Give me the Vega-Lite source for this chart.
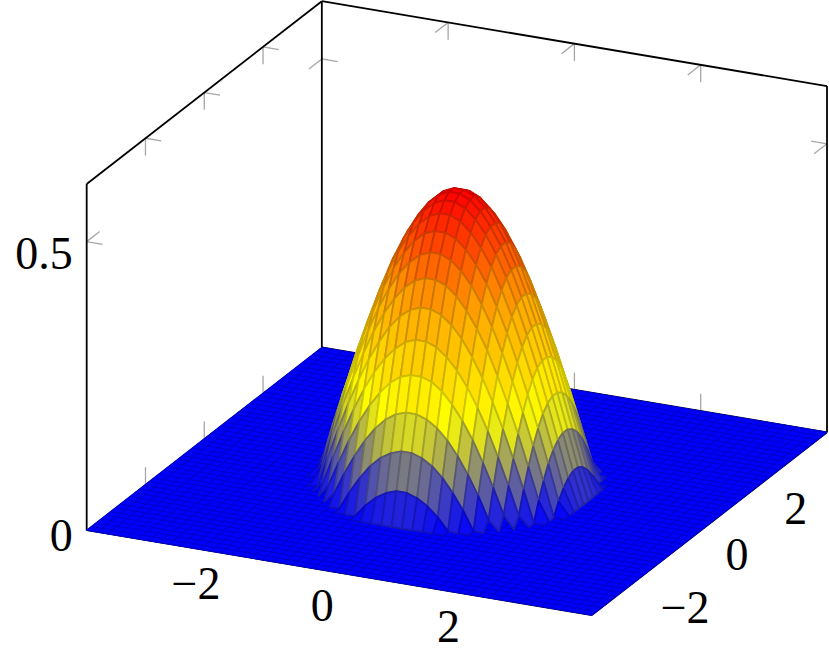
{"$schema":"https://vega.github.io/schema/vega-lite/v6.json","width":829,"height":655,"padding":0,"autosize":{"type":"fit","contains":"padding"},"background":"white","config":{"view":{"stroke":null}},
"datasets":{
"ticks":[
{"x":-2,"y":4,"z":0.6,"x2":-2,"y2":4,"z2":0.57},{"x":-2,"y":4,"z":0.6,"x2":-2,"y2":3.56,"z2":0.6},
{"x":0,"y":4,"z":0.6,"x2":0,"y2":4,"z2":0.57},{"x":0,"y":4,"z":0.6,"x2":0,"y2":3.56,"z2":0.6},
{"x":2,"y":4,"z":0.6,"x2":2,"y2":4,"z2":0.57},{"x":2,"y":4,"z":0.6,"x2":2,"y2":3.56,"z2":0.6},
{"x":-2,"y":4,"z":0,"x2":-2,"y2":4,"z2":0.03},{"x":0,"y":4,"z":0,"x2":0,"y2":4,"z2":0.03},{"x":2,"y":4,"z":0,"x2":2,"y2":4,"z2":0.03},
{"x":-4,"y":-2,"z":0.6,"x2":-4,"y2":-2,"z2":0.57},{"x":-4,"y":-2,"z":0.6,"x2":-3.75,"y2":-2,"z2":0.6},
{"x":-4,"y":0,"z":0.6,"x2":-4,"y2":0,"z2":0.57},{"x":-4,"y":0,"z":0.6,"x2":-3.75,"y2":0,"z2":0.6},
{"x":-4,"y":2,"z":0.6,"x2":-4,"y2":2,"z2":0.57},{"x":-4,"y":2,"z":0.6,"x2":-3.75,"y2":2,"z2":0.6},
{"x":-4,"y":-2,"z":0,"x2":-4,"y2":-2,"z2":0.03},{"x":-4,"y":0,"z":0,"x2":-4,"y2":0,"z2":0.03},{"x":-4,"y":2,"z":0,"x2":-4,"y2":2,"z2":0.03},
{"x":-4,"y":4,"z":0.5,"x2":-4,"y2":3.56,"z2":0.5},{"x":-4,"y":4,"z":0.5,"x2":-3.75,"y2":4,"z2":0.5},
{"x":-4,"y":-4,"z":0.5,"x2":-3.75,"y2":-4,"z2":0.5},{"x":-4,"y":-4,"z":0.5,"x2":-4,"y2":-3.56,"z2":0.5},
{"x":4,"y":4,"z":0.5,"x2":3.75,"y2":4,"z2":0.5},{"x":4,"y":4,"z":0.5,"x2":4,"y2":3.56,"z2":0.5}],
"box":[
{"x":-4,"y":-4,"z":0,"x2":-4,"y2":-4,"z2":0.6},{"x":-4,"y":-4,"z":0.6,"x2":-4,"y2":4,"z2":0.6},{"x":-4,"y":4,"z":0,"x2":-4,"y2":4,"z2":0.6},{"x":-4,"y":4,"z":0.6,"x2":4,"y2":4,"z2":0.6},{"x":4,"y":4,"z":0.6,"x2":4,"y2":4,"z2":0},{"x":-4,"y":-4,"z":0,"x2":4,"y2":-4,"z2":0},{"x":4,"y":-4,"z":0,"x2":4,"y2":4,"z2":0},{"x":-4,"y":4,"z":0,"x2":4,"y2":4,"z2":0}],
"floor":[{"x":-4,"y":-4,"c":0},{"x":4,"y":-4,"c":1},{"x":4,"y":4,"c":2},{"x":-4,"y":4,"c":3},{"x":-4,"y":-4,"c":4}],
"grid":[
{"x":-4,"y":-4,"x2":-4,"y2":4},{"x":-3.837,"y":-4,"x2":-3.837,"y2":4},{"x":-3.673,"y":-4,"x2":-3.673,"y2":4},{"x":-3.51,"y":-4,"x2":-3.51,"y2":4},{"x":-3.347,"y":-4,"x2":-3.347,"y2":4},{"x":-3.184,"y":-4,"x2":-3.184,"y2":4},{"x":-3.02,"y":-4,"x2":-3.02,"y2":4},{"x":-2.857,"y":-4,"x2":-2.857,"y2":4},{"x":-2.694,"y":-4,"x2":-2.694,"y2":4},{"x":-2.531,"y":-4,"x2":-2.531,"y2":4},{"x":-2.367,"y":-4,"x2":-2.367,"y2":4},{"x":-2.204,"y":-4,"x2":-2.204,"y2":4},{"x":-2.041,"y":-4,"x2":-2.041,"y2":4},{"x":-1.878,"y":-4,"x2":-1.878,"y2":4},{"x":-1.714,"y":-4,"x2":-1.714,"y2":4},{"x":-1.551,"y":-4,"x2":-1.551,"y2":4},{"x":-1.388,"y":-4,"x2":-1.388,"y2":4},{"x":-1.224,"y":-4,"x2":-1.224,"y2":4},{"x":-1.061,"y":-4,"x2":-1.061,"y2":4},{"x":-0.898,"y":-4,"x2":-0.898,"y2":4},{"x":-0.735,"y":-4,"x2":-0.735,"y2":4},{"x":-0.571,"y":-4,"x2":-0.571,"y2":4},{"x":-0.408,"y":-4,"x2":-0.408,"y2":4},{"x":-0.245,"y":-4,"x2":-0.245,"y2":4},{"x":-0.082,"y":-4,"x2":-0.082,"y2":4},{"x":0.082,"y":-4,"x2":0.082,"y2":4},{"x":0.245,"y":-4,"x2":0.245,"y2":4},{"x":0.408,"y":-4,"x2":0.408,"y2":4},{"x":0.571,"y":-4,"x2":0.571,"y2":4},{"x":0.735,"y":-4,"x2":0.735,"y2":4},{"x":0.898,"y":-4,"x2":0.898,"y2":4},{"x":1.061,"y":-4,"x2":1.061,"y2":4},{"x":1.224,"y":-4,"x2":1.224,"y2":4},{"x":1.388,"y":-4,"x2":1.388,"y2":4},{"x":1.551,"y":-4,"x2":1.551,"y2":4},{"x":1.714,"y":-4,"x2":1.714,"y2":4},{"x":1.878,"y":-4,"x2":1.878,"y2":4},{"x":2.041,"y":-4,"x2":2.041,"y2":4},{"x":2.204,"y":-4,"x2":2.204,"y2":4},{"x":2.367,"y":-4,"x2":2.367,"y2":4},{"x":2.531,"y":-4,"x2":2.531,"y2":4},{"x":2.694,"y":-4,"x2":2.694,"y2":4},{"x":2.857,"y":-4,"x2":2.857,"y2":4},{"x":3.02,"y":-4,"x2":3.02,"y2":4},{"x":3.184,"y":-4,"x2":3.184,"y2":4},{"x":3.347,"y":-4,"x2":3.347,"y2":4},{"x":3.51,"y":-4,"x2":3.51,"y2":4},{"x":3.673,"y":-4,"x2":3.673,"y2":4},{"x":3.837,"y":-4,"x2":3.837,"y2":4},{"x":4,"y":-4,"x2":4,"y2":4},
{"x":-4,"y":-4,"x2":4,"y2":-4},{"x":-4,"y":-3.837,"x2":4,"y2":-3.837},{"x":-4,"y":-3.673,"x2":4,"y2":-3.673},{"x":-4,"y":-3.51,"x2":4,"y2":-3.51},{"x":-4,"y":-3.347,"x2":4,"y2":-3.347},{"x":-4,"y":-3.184,"x2":4,"y2":-3.184},{"x":-4,"y":-3.02,"x2":4,"y2":-3.02},{"x":-4,"y":-2.857,"x2":4,"y2":-2.857},{"x":-4,"y":-2.694,"x2":4,"y2":-2.694},{"x":-4,"y":-2.531,"x2":4,"y2":-2.531},{"x":-4,"y":-2.367,"x2":4,"y2":-2.367},{"x":-4,"y":-2.204,"x2":4,"y2":-2.204},{"x":-4,"y":-2.041,"x2":4,"y2":-2.041},{"x":-4,"y":-1.878,"x2":4,"y2":-1.878},{"x":-4,"y":-1.714,"x2":4,"y2":-1.714},{"x":-4,"y":-1.551,"x2":4,"y2":-1.551},{"x":-4,"y":-1.388,"x2":4,"y2":-1.388},{"x":-4,"y":-1.224,"x2":4,"y2":-1.224},{"x":-4,"y":-1.061,"x2":4,"y2":-1.061},{"x":-4,"y":-0.898,"x2":4,"y2":-0.898},{"x":-4,"y":-0.735,"x2":4,"y2":-0.735},{"x":-4,"y":-0.571,"x2":4,"y2":-0.571},{"x":-4,"y":-0.408,"x2":4,"y2":-0.408},{"x":-4,"y":-0.245,"x2":4,"y2":-0.245},{"x":-4,"y":-0.082,"x2":4,"y2":-0.082},{"x":-4,"y":0.082,"x2":4,"y2":0.082},{"x":-4,"y":0.245,"x2":4,"y2":0.245},{"x":-4,"y":0.408,"x2":4,"y2":0.408},{"x":-4,"y":0.571,"x2":4,"y2":0.571},{"x":-4,"y":0.735,"x2":4,"y2":0.735},{"x":-4,"y":0.898,"x2":4,"y2":0.898},{"x":-4,"y":1.061,"x2":4,"y2":1.061},{"x":-4,"y":1.224,"x2":4,"y2":1.224},{"x":-4,"y":1.388,"x2":4,"y2":1.388},{"x":-4,"y":1.551,"x2":4,"y2":1.551},{"x":-4,"y":1.714,"x2":4,"y2":1.714},{"x":-4,"y":1.878,"x2":4,"y2":1.878},{"x":-4,"y":2.041,"x2":4,"y2":2.041},{"x":-4,"y":2.204,"x2":4,"y2":2.204},{"x":-4,"y":2.367,"x2":4,"y2":2.367},{"x":-4,"y":2.531,"x2":4,"y2":2.531},{"x":-4,"y":2.694,"x2":4,"y2":2.694},{"x":-4,"y":2.857,"x2":4,"y2":2.857},{"x":-4,"y":3.02,"x2":4,"y2":3.02},{"x":-4,"y":3.184,"x2":4,"y2":3.184},{"x":-4,"y":3.347,"x2":4,"y2":3.347},{"x":-4,"y":3.51,"x2":4,"y2":3.51},{"x":-4,"y":3.673,"x2":4,"y2":3.673},{"x":-4,"y":3.837,"x2":4,"y2":3.837},{"x":-4,"y":4,"x2":4,"y2":4}],
"surface":[
{"x":-0.735,"y":2.041,"z":0},{"x":-0.571,"y":2.041,"z":0},{"x":-0.408,"y":2.041,"z":0},{"x":-0.245,"y":2.041,"z":0},{"x":-0.082,"y":2.041,"z":0},{"x":0.082,"y":2.041,"z":0},{"x":0.245,"y":2.041,"z":0},{"x":0.408,"y":2.041,"z":0},{"x":0.571,"y":2.041,"z":0},{"x":0.735,"y":2.041,"z":0},
{"x":-1.061,"y":1.878,"z":0},{"x":-0.898,"y":1.878,"z":0},{"x":-0.735,"y":1.878,"z":0.001},{"x":-0.571,"y":1.878,"z":0.022},{"x":-0.408,"y":1.878,"z":0.038},{"x":-0.245,"y":1.878,"z":0.049},{"x":-0.082,"y":1.878,"z":0.055},{"x":0.082,"y":1.878,"z":0.055},{"x":0.245,"y":1.878,"z":0.049},{"x":0.408,"y":1.878,"z":0.038},{"x":0.571,"y":1.878,"z":0.022},{"x":0.735,"y":1.878,"z":0.001},{"x":0.898,"y":1.878,"z":0},{"x":1.061,"y":1.878,"z":0},
{"x":-1.224,"y":1.714,"z":0},{"x":-1.061,"y":1.714,"z":0.001},{"x":-0.898,"y":1.714,"z":0.033},{"x":-0.735,"y":1.714,"z":0.06},{"x":-0.571,"y":1.714,"z":0.083},{"x":-0.408,"y":1.714,"z":0.1},{"x":-0.245,"y":1.714,"z":0.111},{"x":-0.082,"y":1.714,"z":0.117},{"x":0.082,"y":1.714,"z":0.117},{"x":0.245,"y":1.714,"z":0.111},{"x":0.408,"y":1.714,"z":0.1},{"x":0.571,"y":1.714,"z":0.083},{"x":0.735,"y":1.714,"z":0.06},{"x":0.898,"y":1.714,"z":0.033},{"x":1.061,"y":1.714,"z":0.001},{"x":1.224,"y":1.714,"z":0},
{"x":-1.388,"y":1.551,"z":0},{"x":-1.224,"y":1.551,"z":0.017},{"x":-1.061,"y":1.551,"z":0.055},{"x":-0.898,"y":1.551,"z":0.088},{"x":-0.735,"y":1.551,"z":0.117},{"x":-0.571,"y":1.551,"z":0.141},{"x":-0.408,"y":1.551,"z":0.159},{"x":-0.245,"y":1.551,"z":0.171},{"x":-0.082,"y":1.551,"z":0.177},{"x":0.082,"y":1.551,"z":0.177},{"x":0.245,"y":1.551,"z":0.171},{"x":0.408,"y":1.551,"z":0.159},{"x":0.571,"y":1.551,"z":0.141},{"x":0.735,"y":1.551,"z":0.117},{"x":0.898,"y":1.551,"z":0.088},{"x":1.061,"y":1.551,"z":0.055},{"x":1.224,"y":1.551,"z":0.017},{"x":1.388,"y":1.551,"z":0},
{"x":-1.551,"y":1.388,"z":0},{"x":-1.388,"y":1.388,"z":0.022},{"x":-1.224,"y":1.388,"z":0.065},{"x":-1.061,"y":1.388,"z":0.105},{"x":-0.898,"y":1.388,"z":0.141},{"x":-0.735,"y":1.388,"z":0.171},{"x":-0.571,"y":1.388,"z":0.196},{"x":-0.408,"y":1.388,"z":0.216},{"x":-0.245,"y":1.388,"z":0.229},{"x":-0.082,"y":1.388,"z":0.235},{"x":0.082,"y":1.388,"z":0.235},{"x":0.245,"y":1.388,"z":0.229},{"x":0.408,"y":1.388,"z":0.216},{"x":0.571,"y":1.388,"z":0.196},{"x":0.735,"y":1.388,"z":0.171},{"x":0.898,"y":1.388,"z":0.141},{"x":1.061,"y":1.388,"z":0.105},{"x":1.224,"y":1.388,"z":0.065},{"x":1.388,"y":1.388,"z":0.022},{"x":1.551,"y":1.388,"z":0},
{"x":-1.714,"y":1.224,"z":0},{"x":-1.551,"y":1.224,"z":0.017},{"x":-1.388,"y":1.224,"z":0.065},{"x":-1.224,"y":1.224,"z":0.111},{"x":-1.061,"y":1.224,"z":0.153},{"x":-0.898,"y":1.224,"z":0.19},{"x":-0.735,"y":1.224,"z":0.222},{"x":-0.571,"y":1.224,"z":0.248},{"x":-0.408,"y":1.224,"z":0.268},{"x":-0.245,"y":1.224,"z":0.282},{"x":-0.082,"y":1.224,"z":0.289},{"x":0.082,"y":1.224,"z":0.289},{"x":0.245,"y":1.224,"z":0.282},{"x":0.408,"y":1.224,"z":0.268},{"x":0.571,"y":1.224,"z":0.248},{"x":0.735,"y":1.224,"z":0.222},{"x":0.898,"y":1.224,"z":0.19},{"x":1.061,"y":1.224,"z":0.153},{"x":1.224,"y":1.224,"z":0.111},{"x":1.388,"y":1.224,"z":0.065},{"x":1.551,"y":1.224,"z":0.017},{"x":1.714,"y":1.224,"z":0},
{"x":-1.878,"y":1.061,"z":0},{"x":-1.714,"y":1.061,"z":0.001},{"x":-1.551,"y":1.061,"z":0.055},{"x":-1.388,"y":1.061,"z":0.105},{"x":-1.224,"y":1.061,"z":0.153},{"x":-1.061,"y":1.061,"z":0.196},{"x":-0.898,"y":1.061,"z":0.235},{"x":-0.735,"y":1.061,"z":0.268},{"x":-0.571,"y":1.061,"z":0.296},{"x":-0.408,"y":1.061,"z":0.317},{"x":-0.245,"y":1.061,"z":0.331},{"x":-0.082,"y":1.061,"z":0.338},{"x":0.082,"y":1.061,"z":0.338},{"x":0.245,"y":1.061,"z":0.331},{"x":0.408,"y":1.061,"z":0.317},{"x":0.571,"y":1.061,"z":0.296},{"x":0.735,"y":1.061,"z":0.268},{"x":0.898,"y":1.061,"z":0.235},{"x":1.061,"y":1.061,"z":0.196},{"x":1.224,"y":1.061,"z":0.153},{"x":1.388,"y":1.061,"z":0.105},{"x":1.551,"y":1.061,"z":0.055},{"x":1.714,"y":1.061,"z":0.001},{"x":1.878,"y":1.061,"z":0},
{"x":-1.878,"y":0.898,"z":0},{"x":-1.714,"y":0.898,"z":0.033},{"x":-1.551,"y":0.898,"z":0.088},{"x":-1.388,"y":0.898,"z":0.141},{"x":-1.224,"y":0.898,"z":0.19},{"x":-1.061,"y":0.898,"z":0.235},{"x":-0.898,"y":0.898,"z":0.276},{"x":-0.735,"y":0.898,"z":0.31},{"x":-0.571,"y":0.898,"z":0.338},{"x":-0.408,"y":0.898,"z":0.36},{"x":-0.245,"y":0.898,"z":0.375},{"x":-0.082,"y":0.898,"z":0.382},{"x":0.082,"y":0.898,"z":0.382},{"x":0.245,"y":0.898,"z":0.375},{"x":0.408,"y":0.898,"z":0.36},{"x":0.571,"y":0.898,"z":0.338},{"x":0.735,"y":0.898,"z":0.31},{"x":0.898,"y":0.898,"z":0.276},{"x":1.061,"y":0.898,"z":0.235},{"x":1.224,"y":0.898,"z":0.19},{"x":1.388,"y":0.898,"z":0.141},{"x":1.551,"y":0.898,"z":0.088},{"x":1.714,"y":0.898,"z":0.033},{"x":1.878,"y":0.898,"z":0},
{"x":-2.041,"y":0.735,"z":0},{"x":-1.878,"y":0.735,"z":0.001},{"x":-1.714,"y":0.735,"z":0.06},{"x":-1.551,"y":0.735,"z":0.117},{"x":-1.388,"y":0.735,"z":0.171},{"x":-1.224,"y":0.735,"z":0.222},{"x":-1.061,"y":0.735,"z":0.268},{"x":-0.898,"y":0.735,"z":0.31},{"x":-0.735,"y":0.735,"z":0.345},{"x":-0.571,"y":0.735,"z":0.375},{"x":-0.408,"y":0.735,"z":0.397},{"x":-0.245,"y":0.735,"z":0.412},{"x":-0.082,"y":0.735,"z":0.42},{"x":0.082,"y":0.735,"z":0.42},{"x":0.245,"y":0.735,"z":0.412},{"x":0.408,"y":0.735,"z":0.397},{"x":0.571,"y":0.735,"z":0.375},{"x":0.735,"y":0.735,"z":0.345},{"x":0.898,"y":0.735,"z":0.31},{"x":1.061,"y":0.735,"z":0.268},{"x":1.224,"y":0.735,"z":0.222},{"x":1.388,"y":0.735,"z":0.171},{"x":1.551,"y":0.735,"z":0.117},{"x":1.714,"y":0.735,"z":0.06},{"x":1.878,"y":0.735,"z":0.001},{"x":2.041,"y":0.735,"z":0},
{"x":-2.041,"y":0.571,"z":0},{"x":-1.878,"y":0.571,"z":0.022},{"x":-1.714,"y":0.571,"z":0.083},{"x":-1.551,"y":0.571,"z":0.141},{"x":-1.388,"y":0.571,"z":0.196},{"x":-1.224,"y":0.571,"z":0.248},{"x":-1.061,"y":0.571,"z":0.296},{"x":-0.898,"y":0.571,"z":0.338},{"x":-0.735,"y":0.571,"z":0.375},{"x":-0.571,"y":0.571,"z":0.404},{"x":-0.408,"y":0.571,"z":0.427},{"x":-0.245,"y":0.571,"z":0.443},{"x":-0.082,"y":0.571,"z":0.45},{"x":0.082,"y":0.571,"z":0.45},{"x":0.245,"y":0.571,"z":0.443},{"x":0.408,"y":0.571,"z":0.427},{"x":0.571,"y":0.571,"z":0.404},{"x":0.735,"y":0.571,"z":0.375},{"x":0.898,"y":0.571,"z":0.338},{"x":1.061,"y":0.571,"z":0.296},{"x":1.224,"y":0.571,"z":0.248},{"x":1.388,"y":0.571,"z":0.196},{"x":1.551,"y":0.571,"z":0.141},{"x":1.714,"y":0.571,"z":0.083},{"x":1.878,"y":0.571,"z":0.022},{"x":2.041,"y":0.571,"z":0},
{"x":-2.041,"y":0.408,"z":0},{"x":-1.878,"y":0.408,"z":0.038},{"x":-1.714,"y":0.408,"z":0.1},{"x":-1.551,"y":0.408,"z":0.159},{"x":-1.388,"y":0.408,"z":0.216},{"x":-1.224,"y":0.408,"z":0.268},{"x":-1.061,"y":0.408,"z":0.317},{"x":-0.898,"y":0.408,"z":0.36},{"x":-0.735,"y":0.408,"z":0.397},{"x":-0.571,"y":0.408,"z":0.427},{"x":-0.408,"y":0.408,"z":0.45},{"x":-0.245,"y":0.408,"z":0.466},{"x":-0.082,"y":0.408,"z":0.474},{"x":0.082,"y":0.408,"z":0.474},{"x":0.245,"y":0.408,"z":0.466},{"x":0.408,"y":0.408,"z":0.45},{"x":0.571,"y":0.408,"z":0.427},{"x":0.735,"y":0.408,"z":0.397},{"x":0.898,"y":0.408,"z":0.36},{"x":1.061,"y":0.408,"z":0.317},{"x":1.224,"y":0.408,"z":0.268},{"x":1.388,"y":0.408,"z":0.216},{"x":1.551,"y":0.408,"z":0.159},{"x":1.714,"y":0.408,"z":0.1},{"x":1.878,"y":0.408,"z":0.038},{"x":2.041,"y":0.408,"z":0},
{"x":-2.041,"y":0.245,"z":0},{"x":-1.878,"y":0.245,"z":0.049},{"x":-1.714,"y":0.245,"z":0.111},{"x":-1.551,"y":0.245,"z":0.171},{"x":-1.388,"y":0.245,"z":0.229},{"x":-1.224,"y":0.245,"z":0.282},{"x":-1.061,"y":0.245,"z":0.331},{"x":-0.898,"y":0.245,"z":0.375},{"x":-0.735,"y":0.245,"z":0.412},{"x":-0.571,"y":0.245,"z":0.443},{"x":-0.408,"y":0.245,"z":0.466},{"x":-0.245,"y":0.245,"z":0.482},{"x":-0.082,"y":0.245,"z":0.49},{"x":0.082,"y":0.245,"z":0.49},{"x":0.245,"y":0.245,"z":0.482},{"x":0.408,"y":0.245,"z":0.466},{"x":0.571,"y":0.245,"z":0.443},{"x":0.735,"y":0.245,"z":0.412},{"x":0.898,"y":0.245,"z":0.375},{"x":1.061,"y":0.245,"z":0.331},{"x":1.224,"y":0.245,"z":0.282},{"x":1.388,"y":0.245,"z":0.229},{"x":1.551,"y":0.245,"z":0.171},{"x":1.714,"y":0.245,"z":0.111},{"x":1.878,"y":0.245,"z":0.049},{"x":2.041,"y":0.245,"z":0},
{"x":-2.041,"y":0.082,"z":0},{"x":-1.878,"y":0.082,"z":0.055},{"x":-1.714,"y":0.082,"z":0.117},{"x":-1.551,"y":0.082,"z":0.177},{"x":-1.388,"y":0.082,"z":0.235},{"x":-1.224,"y":0.082,"z":0.289},{"x":-1.061,"y":0.082,"z":0.338},{"x":-0.898,"y":0.082,"z":0.382},{"x":-0.735,"y":0.082,"z":0.42},{"x":-0.571,"y":0.082,"z":0.45},{"x":-0.408,"y":0.082,"z":0.474},{"x":-0.245,"y":0.082,"z":0.49},{"x":-0.082,"y":0.082,"z":0.498},{"x":0.082,"y":0.082,"z":0.498},{"x":0.245,"y":0.082,"z":0.49},{"x":0.408,"y":0.082,"z":0.474},{"x":0.571,"y":0.082,"z":0.45},{"x":0.735,"y":0.082,"z":0.42},{"x":0.898,"y":0.082,"z":0.382},{"x":1.061,"y":0.082,"z":0.338},{"x":1.224,"y":0.082,"z":0.289},{"x":1.388,"y":0.082,"z":0.235},{"x":1.551,"y":0.082,"z":0.177},{"x":1.714,"y":0.082,"z":0.117},{"x":1.878,"y":0.082,"z":0.055},{"x":2.041,"y":0.082,"z":0},
{"x":-2.041,"y":-0.082,"z":0},{"x":-1.878,"y":-0.082,"z":0.055},{"x":-1.714,"y":-0.082,"z":0.117},{"x":-1.551,"y":-0.082,"z":0.177},{"x":-1.388,"y":-0.082,"z":0.235},{"x":-1.224,"y":-0.082,"z":0.289},{"x":-1.061,"y":-0.082,"z":0.338},{"x":-0.898,"y":-0.082,"z":0.382},{"x":-0.735,"y":-0.082,"z":0.42},{"x":-0.571,"y":-0.082,"z":0.45},{"x":-0.408,"y":-0.082,"z":0.474},{"x":-0.245,"y":-0.082,"z":0.49},{"x":-0.082,"y":-0.082,"z":0.498},{"x":0.082,"y":-0.082,"z":0.498},{"x":0.245,"y":-0.082,"z":0.49},{"x":0.408,"y":-0.082,"z":0.474},{"x":0.571,"y":-0.082,"z":0.45},{"x":0.735,"y":-0.082,"z":0.42},{"x":0.898,"y":-0.082,"z":0.382},{"x":1.061,"y":-0.082,"z":0.338},{"x":1.224,"y":-0.082,"z":0.289},{"x":1.388,"y":-0.082,"z":0.235},{"x":1.551,"y":-0.082,"z":0.177},{"x":1.714,"y":-0.082,"z":0.117},{"x":1.878,"y":-0.082,"z":0.055},{"x":2.041,"y":-0.082,"z":0},
{"x":-2.041,"y":-0.245,"z":0},{"x":-1.878,"y":-0.245,"z":0.049},{"x":-1.714,"y":-0.245,"z":0.111},{"x":-1.551,"y":-0.245,"z":0.171},{"x":-1.388,"y":-0.245,"z":0.229},{"x":-1.224,"y":-0.245,"z":0.282},{"x":-1.061,"y":-0.245,"z":0.331},{"x":-0.898,"y":-0.245,"z":0.375},{"x":-0.735,"y":-0.245,"z":0.412},{"x":-0.571,"y":-0.245,"z":0.443},{"x":-0.408,"y":-0.245,"z":0.466},{"x":-0.245,"y":-0.245,"z":0.482},{"x":-0.082,"y":-0.245,"z":0.49},{"x":0.082,"y":-0.245,"z":0.49},{"x":0.245,"y":-0.245,"z":0.482},{"x":0.408,"y":-0.245,"z":0.466},{"x":0.571,"y":-0.245,"z":0.443},{"x":0.735,"y":-0.245,"z":0.412},{"x":0.898,"y":-0.245,"z":0.375},{"x":1.061,"y":-0.245,"z":0.331},{"x":1.224,"y":-0.245,"z":0.282},{"x":1.388,"y":-0.245,"z":0.229},{"x":1.551,"y":-0.245,"z":0.171},{"x":1.714,"y":-0.245,"z":0.111},{"x":1.878,"y":-0.245,"z":0.049},{"x":2.041,"y":-0.245,"z":0},
{"x":-2.041,"y":-0.408,"z":0},{"x":-1.878,"y":-0.408,"z":0.038},{"x":-1.714,"y":-0.408,"z":0.1},{"x":-1.551,"y":-0.408,"z":0.159},{"x":-1.388,"y":-0.408,"z":0.216},{"x":-1.224,"y":-0.408,"z":0.268},{"x":-1.061,"y":-0.408,"z":0.317},{"x":-0.898,"y":-0.408,"z":0.36},{"x":-0.735,"y":-0.408,"z":0.397},{"x":-0.571,"y":-0.408,"z":0.427},{"x":-0.408,"y":-0.408,"z":0.45},{"x":-0.245,"y":-0.408,"z":0.466},{"x":-0.082,"y":-0.408,"z":0.474},{"x":0.082,"y":-0.408,"z":0.474},{"x":0.245,"y":-0.408,"z":0.466},{"x":0.408,"y":-0.408,"z":0.45},{"x":0.571,"y":-0.408,"z":0.427},{"x":0.735,"y":-0.408,"z":0.397},{"x":0.898,"y":-0.408,"z":0.36},{"x":1.061,"y":-0.408,"z":0.317},{"x":1.224,"y":-0.408,"z":0.268},{"x":1.388,"y":-0.408,"z":0.216},{"x":1.551,"y":-0.408,"z":0.159},{"x":1.714,"y":-0.408,"z":0.1},{"x":1.878,"y":-0.408,"z":0.038},{"x":2.041,"y":-0.408,"z":0},
{"x":-2.041,"y":-0.571,"z":0},{"x":-1.878,"y":-0.571,"z":0.022},{"x":-1.714,"y":-0.571,"z":0.083},{"x":-1.551,"y":-0.571,"z":0.141},{"x":-1.388,"y":-0.571,"z":0.196},{"x":-1.224,"y":-0.571,"z":0.248},{"x":-1.061,"y":-0.571,"z":0.296},{"x":-0.898,"y":-0.571,"z":0.338},{"x":-0.735,"y":-0.571,"z":0.375},{"x":-0.571,"y":-0.571,"z":0.404},{"x":-0.408,"y":-0.571,"z":0.427},{"x":-0.245,"y":-0.571,"z":0.443},{"x":-0.082,"y":-0.571,"z":0.45},{"x":0.082,"y":-0.571,"z":0.45},{"x":0.245,"y":-0.571,"z":0.443},{"x":0.408,"y":-0.571,"z":0.427},{"x":0.571,"y":-0.571,"z":0.404},{"x":0.735,"y":-0.571,"z":0.375},{"x":0.898,"y":-0.571,"z":0.338},{"x":1.061,"y":-0.571,"z":0.296},{"x":1.224,"y":-0.571,"z":0.248},{"x":1.388,"y":-0.571,"z":0.196},{"x":1.551,"y":-0.571,"z":0.141},{"x":1.714,"y":-0.571,"z":0.083},{"x":1.878,"y":-0.571,"z":0.022},{"x":2.041,"y":-0.571,"z":0},
{"x":-2.041,"y":-0.735,"z":0},{"x":-1.878,"y":-0.735,"z":0.001},{"x":-1.714,"y":-0.735,"z":0.06},{"x":-1.551,"y":-0.735,"z":0.117},{"x":-1.388,"y":-0.735,"z":0.171},{"x":-1.224,"y":-0.735,"z":0.222},{"x":-1.061,"y":-0.735,"z":0.268},{"x":-0.898,"y":-0.735,"z":0.31},{"x":-0.735,"y":-0.735,"z":0.345},{"x":-0.571,"y":-0.735,"z":0.375},{"x":-0.408,"y":-0.735,"z":0.397},{"x":-0.245,"y":-0.735,"z":0.412},{"x":-0.082,"y":-0.735,"z":0.42},{"x":0.082,"y":-0.735,"z":0.42},{"x":0.245,"y":-0.735,"z":0.412},{"x":0.408,"y":-0.735,"z":0.397},{"x":0.571,"y":-0.735,"z":0.375},{"x":0.735,"y":-0.735,"z":0.345},{"x":0.898,"y":-0.735,"z":0.31},{"x":1.061,"y":-0.735,"z":0.268},{"x":1.224,"y":-0.735,"z":0.222},{"x":1.388,"y":-0.735,"z":0.171},{"x":1.551,"y":-0.735,"z":0.117},{"x":1.714,"y":-0.735,"z":0.06},{"x":1.878,"y":-0.735,"z":0.001},{"x":2.041,"y":-0.735,"z":0},
{"x":-1.878,"y":-0.898,"z":0},{"x":-1.714,"y":-0.898,"z":0.033},{"x":-1.551,"y":-0.898,"z":0.088},{"x":-1.388,"y":-0.898,"z":0.141},{"x":-1.224,"y":-0.898,"z":0.19},{"x":-1.061,"y":-0.898,"z":0.235},{"x":-0.898,"y":-0.898,"z":0.276},{"x":-0.735,"y":-0.898,"z":0.31},{"x":-0.571,"y":-0.898,"z":0.338},{"x":-0.408,"y":-0.898,"z":0.36},{"x":-0.245,"y":-0.898,"z":0.375},{"x":-0.082,"y":-0.898,"z":0.382},{"x":0.082,"y":-0.898,"z":0.382},{"x":0.245,"y":-0.898,"z":0.375},{"x":0.408,"y":-0.898,"z":0.36},{"x":0.571,"y":-0.898,"z":0.338},{"x":0.735,"y":-0.898,"z":0.31},{"x":0.898,"y":-0.898,"z":0.276},{"x":1.061,"y":-0.898,"z":0.235},{"x":1.224,"y":-0.898,"z":0.19},{"x":1.388,"y":-0.898,"z":0.141},{"x":1.551,"y":-0.898,"z":0.088},{"x":1.714,"y":-0.898,"z":0.033},{"x":1.878,"y":-0.898,"z":0},
{"x":-1.878,"y":-1.061,"z":0},{"x":-1.714,"y":-1.061,"z":0.001},{"x":-1.551,"y":-1.061,"z":0.055},{"x":-1.388,"y":-1.061,"z":0.105},{"x":-1.224,"y":-1.061,"z":0.153},{"x":-1.061,"y":-1.061,"z":0.196},{"x":-0.898,"y":-1.061,"z":0.235},{"x":-0.735,"y":-1.061,"z":0.268},{"x":-0.571,"y":-1.061,"z":0.296},{"x":-0.408,"y":-1.061,"z":0.317},{"x":-0.245,"y":-1.061,"z":0.331},{"x":-0.082,"y":-1.061,"z":0.338},{"x":0.082,"y":-1.061,"z":0.338},{"x":0.245,"y":-1.061,"z":0.331},{"x":0.408,"y":-1.061,"z":0.317},{"x":0.571,"y":-1.061,"z":0.296},{"x":0.735,"y":-1.061,"z":0.268},{"x":0.898,"y":-1.061,"z":0.235},{"x":1.061,"y":-1.061,"z":0.196},{"x":1.224,"y":-1.061,"z":0.153},{"x":1.388,"y":-1.061,"z":0.105},{"x":1.551,"y":-1.061,"z":0.055},{"x":1.714,"y":-1.061,"z":0.001},{"x":1.878,"y":-1.061,"z":0},
{"x":-1.714,"y":-1.224,"z":0},{"x":-1.551,"y":-1.224,"z":0.017},{"x":-1.388,"y":-1.224,"z":0.065},{"x":-1.224,"y":-1.224,"z":0.111},{"x":-1.061,"y":-1.224,"z":0.153},{"x":-0.898,"y":-1.224,"z":0.19},{"x":-0.735,"y":-1.224,"z":0.222},{"x":-0.571,"y":-1.224,"z":0.248},{"x":-0.408,"y":-1.224,"z":0.268},{"x":-0.245,"y":-1.224,"z":0.282},{"x":-0.082,"y":-1.224,"z":0.289},{"x":0.082,"y":-1.224,"z":0.289},{"x":0.245,"y":-1.224,"z":0.282},{"x":0.408,"y":-1.224,"z":0.268},{"x":0.571,"y":-1.224,"z":0.248},{"x":0.735,"y":-1.224,"z":0.222},{"x":0.898,"y":-1.224,"z":0.19},{"x":1.061,"y":-1.224,"z":0.153},{"x":1.224,"y":-1.224,"z":0.111},{"x":1.388,"y":-1.224,"z":0.065},{"x":1.551,"y":-1.224,"z":0.017},{"x":1.714,"y":-1.224,"z":0},
{"x":-1.551,"y":-1.388,"z":0},{"x":-1.388,"y":-1.388,"z":0.022},{"x":-1.224,"y":-1.388,"z":0.065},{"x":-1.061,"y":-1.388,"z":0.105},{"x":-0.898,"y":-1.388,"z":0.141},{"x":-0.735,"y":-1.388,"z":0.171},{"x":-0.571,"y":-1.388,"z":0.196},{"x":-0.408,"y":-1.388,"z":0.216},{"x":-0.245,"y":-1.388,"z":0.229},{"x":-0.082,"y":-1.388,"z":0.235},{"x":0.082,"y":-1.388,"z":0.235},{"x":0.245,"y":-1.388,"z":0.229},{"x":0.408,"y":-1.388,"z":0.216},{"x":0.571,"y":-1.388,"z":0.196},{"x":0.735,"y":-1.388,"z":0.171},{"x":0.898,"y":-1.388,"z":0.141},{"x":1.061,"y":-1.388,"z":0.105},{"x":1.224,"y":-1.388,"z":0.065},{"x":1.388,"y":-1.388,"z":0.022},{"x":1.551,"y":-1.388,"z":0},
{"x":-1.388,"y":-1.551,"z":0},{"x":-1.224,"y":-1.551,"z":0.017},{"x":-1.061,"y":-1.551,"z":0.055},{"x":-0.898,"y":-1.551,"z":0.088},{"x":-0.735,"y":-1.551,"z":0.117},{"x":-0.571,"y":-1.551,"z":0.141},{"x":-0.408,"y":-1.551,"z":0.159},{"x":-0.245,"y":-1.551,"z":0.171},{"x":-0.082,"y":-1.551,"z":0.177},{"x":0.082,"y":-1.551,"z":0.177},{"x":0.245,"y":-1.551,"z":0.171},{"x":0.408,"y":-1.551,"z":0.159},{"x":0.571,"y":-1.551,"z":0.141},{"x":0.735,"y":-1.551,"z":0.117},{"x":0.898,"y":-1.551,"z":0.088},{"x":1.061,"y":-1.551,"z":0.055},{"x":1.224,"y":-1.551,"z":0.017},{"x":1.388,"y":-1.551,"z":0},
{"x":-1.224,"y":-1.714,"z":0},{"x":-1.061,"y":-1.714,"z":0.001},{"x":-0.898,"y":-1.714,"z":0.033},{"x":-0.735,"y":-1.714,"z":0.06},{"x":-0.571,"y":-1.714,"z":0.083},{"x":-0.408,"y":-1.714,"z":0.1},{"x":-0.245,"y":-1.714,"z":0.111},{"x":-0.082,"y":-1.714,"z":0.117},{"x":0.082,"y":-1.714,"z":0.117},{"x":0.245,"y":-1.714,"z":0.111},{"x":0.408,"y":-1.714,"z":0.1},{"x":0.571,"y":-1.714,"z":0.083},{"x":0.735,"y":-1.714,"z":0.06},{"x":0.898,"y":-1.714,"z":0.033},{"x":1.061,"y":-1.714,"z":0.001},{"x":1.224,"y":-1.714,"z":0},
{"x":-1.061,"y":-1.878,"z":0},{"x":-0.898,"y":-1.878,"z":0},{"x":-0.735,"y":-1.878,"z":0.001},{"x":-0.571,"y":-1.878,"z":0.022},{"x":-0.408,"y":-1.878,"z":0.038},{"x":-0.245,"y":-1.878,"z":0.049},{"x":-0.082,"y":-1.878,"z":0.055},{"x":0.082,"y":-1.878,"z":0.055},{"x":0.245,"y":-1.878,"z":0.049},{"x":0.408,"y":-1.878,"z":0.038},{"x":0.571,"y":-1.878,"z":0.022},{"x":0.735,"y":-1.878,"z":0.001},{"x":0.898,"y":-1.878,"z":0},{"x":1.061,"y":-1.878,"z":0},
{"x":-0.735,"y":-2.041,"z":0},{"x":-0.571,"y":-2.041,"z":0},{"x":-0.408,"y":-2.041,"z":0},{"x":-0.245,"y":-2.041,"z":0},{"x":-0.082,"y":-2.041,"z":0},{"x":0.082,"y":-2.041,"z":0},{"x":0.245,"y":-2.041,"z":0},{"x":0.408,"y":-2.041,"z":0},{"x":0.571,"y":-2.041,"z":0},{"x":0.735,"y":-2.041,"z":0}],
"labels":[
{"group":"x","x":-2,"y":-4,"z":0,"label":"−2"},{"group":"x","x":0,"y":-4,"z":0,"label":"0"},{"group":"x","x":2,"y":-4,"z":0,"label":"2"},
{"group":"y","x":4,"y":0,"z":0,"label":"0"},{"group":"y","x":4,"y":2,"z":0,"label":"2"},{"group":"yn","x":4,"y":-2,"z":0,"label":"−2"},
{"group":"z0","x":-4,"y":-4,"z":0,"label":"0"},{"group":"z5","x":-4,"y":-4,"z":0.5,"label":"0.5"}]
},
"layer":[
{"data":{"name":"ticks"},"transform":[{"calculate":"458.5+63.375*datum.x+29.5*datum.y","as":"sx"},{"calculate":"481+10.625*datum.x-22.875*datum.y-578*datum.z","as":"sy"},{"calculate":"458.5+63.375*datum.x2+29.5*datum.y2","as":"sx2"},{"calculate":"481+10.625*datum.x2-22.875*datum.y2-578*datum.z2","as":"sy2"}],
"mark":{"type":"rule","color":"#a6a6a6","strokeWidth":1.3},
"encoding":{"x":{"field":"sx","type":"quantitative","scale":{"domain":[0,829],"nice":false,"zero":false},"axis":null},"y":{"field":"sy","type":"quantitative","scale":{"domain":[655,0],"nice":false,"zero":false},"axis":null},"x2":{"field":"sx2"},"y2":{"field":"sy2"}}},
{"data":{"name":"box"},"transform":[{"calculate":"458.5+63.375*datum.x+29.5*datum.y","as":"sx"},{"calculate":"481+10.625*datum.x-22.875*datum.y-578*datum.z","as":"sy"},{"calculate":"458.5+63.375*datum.x2+29.5*datum.y2","as":"sx2"},{"calculate":"481+10.625*datum.x2-22.875*datum.y2-578*datum.z2","as":"sy2"}],
"mark":{"type":"rule","color":"#000000","strokeWidth":1.8},
"encoding":{"x":{"field":"sx","type":"quantitative","scale":{"domain":[0,829],"nice":false,"zero":false},"axis":null},"y":{"field":"sy","type":"quantitative","scale":{"domain":[655,0],"nice":false,"zero":false},"axis":null},"x2":{"field":"sx2"},"y2":{"field":"sy2"}}},
{"data":{"name":"floor"},"transform":[{"calculate":"458.5+63.375*datum.x+29.5*datum.y","as":"sx"},{"calculate":"481+10.625*datum.x-22.875*datum.y","as":"sy"}],
"mark":{"type":"line","fill":"#0000ff","stroke":"#0000ff","strokeWidth":1},
"encoding":{"x":{"field":"sx","type":"quantitative","scale":{"domain":[0,829],"nice":false,"zero":false},"axis":null},"y":{"field":"sy","type":"quantitative","scale":{"domain":[655,0],"nice":false,"zero":false},"axis":null},"order":{"field":"c","type":"quantitative"}}},
{"data":{"name":"grid"},"transform":[{"calculate":"458.5+63.375*datum.x+29.5*datum.y","as":"sx"},{"calculate":"481+10.625*datum.x-22.875*datum.y","as":"sy"},{"calculate":"458.5+63.375*datum.x2+29.5*datum.y2","as":"sx2"},{"calculate":"481+10.625*datum.x2-22.875*datum.y2","as":"sy2"}],
"mark":{"type":"rule","color":"#0000cc","strokeWidth":1.2},
"encoding":{"x":{"field":"sx","type":"quantitative","scale":{"domain":[0,829],"nice":false,"zero":false},"axis":null},"y":{"field":"sy","type":"quantitative","scale":{"domain":[655,0],"nice":false,"zero":false},"axis":null},"x2":{"field":"sx2"},"y2":{"field":"sy2"}}},
{"data":{"name":"surface"},"transform":[{"calculate":"round((datum.x+4)*6.125)","as":"i"},{"calculate":"round((datum.y+4)*6.125)","as":"j"},{"calculate":"[0,1,2,3,4]","as":"c"},{"flatten":["c"]},{"calculate":"(datum.i-(datum.c==1||datum.c==2?1:0))+'_'+(datum.j-(datum.c==2||datum.c==3?1:0))","as":"q"},{"calculate":"458.5+63.375*datum.x+29.5*datum.y","as":"sx"},{"calculate":"481+10.625*datum.x-22.875*datum.y-584*datum.z","as":"sy"},{"joinaggregate":[{"op":"mean","field":"z","as":"mz"},{"op":"count","as":"n"}],"groupby":["q"]},{"filter":"datum.n==5"}],
"mark":{"type":"line","strokeWidth":1.8,"strokeJoin":"round"},
"encoding":{"x":{"field":"sx","type":"quantitative","scale":{"domain":[0,829],"nice":false,"zero":false},"axis":null},"y":{"field":"sy","type":"quantitative","scale":{"domain":[655,0],"nice":false,"zero":false},"axis":null},"detail":{"field":"q"},"order":{"field":"c","type":"quantitative"},
"fill":{"field":"mz","type":"quantitative","legend":null,"scale":{"type":"linear","domain":[0,0.1667,0.3333,0.5],"range":["#0000ff","#ffff00","#ffa500","#ff0000"],"interpolate":"rgb"}},
"stroke":{"field":"mz","type":"quantitative","legend":null,"scale":{"type":"linear","domain":[0,0.1667,0.3333,0.5],"range":["#0000cc","#cccc00","#cc8400","#cc0000"],"interpolate":"rgb"}}}},
{"data":{"name":"labels"},"transform":[{"filter":"datum.group=='x'"},{"calculate":"458.5+63.375*datum.x+29.5*datum.y","as":"sx"},{"calculate":"481+10.625*datum.x-22.875*datum.y-578*datum.z","as":"sy"}],
"mark":{"type":"text","font":"Liberation Serif","fontSize":46,"align":"center","baseline":"middle","dx":-17,"dy":34,"color":"#000000"},
"encoding":{"x":{"field":"sx","type":"quantitative","scale":{"domain":[0,829],"nice":false,"zero":false},"axis":null},"y":{"field":"sy","type":"quantitative","scale":{"domain":[655,0],"nice":false,"zero":false},"axis":null},"text":{"field":"label"}}},
{"data":{"name":"labels"},"transform":[{"filter":"datum.group=='y'"},{"calculate":"458.5+63.375*datum.x+29.5*datum.y","as":"sx"},{"calculate":"481+10.625*datum.x-22.875*datum.y-578*datum.z","as":"sy"}],
"mark":{"type":"text","font":"Liberation Serif","fontSize":46,"align":"left","baseline":"middle","dx":16,"dy":32,"color":"#000000"},
"encoding":{"x":{"field":"sx","type":"quantitative","scale":{"domain":[0,829],"nice":false,"zero":false},"axis":null},"y":{"field":"sy","type":"quantitative","scale":{"domain":[655,0],"nice":false,"zero":false},"axis":null},"text":{"field":"label"}}},
{"data":{"name":"labels"},"transform":[{"filter":"datum.group=='yn'"},{"calculate":"458.5+63.375*datum.x+29.5*datum.y","as":"sx"},{"calculate":"481+10.625*datum.x-22.875*datum.y-578*datum.z","as":"sy"}],
"mark":{"type":"text","font":"Liberation Serif","fontSize":46,"align":"left","baseline":"middle","dx":10,"dy":40,"color":"#000000"},
"encoding":{"x":{"field":"sx","type":"quantitative","scale":{"domain":[0,829],"nice":false,"zero":false},"axis":null},"y":{"field":"sy","type":"quantitative","scale":{"domain":[655,0],"nice":false,"zero":false},"axis":null},"text":{"field":"label"}}},
{"data":{"name":"labels"},"transform":[{"filter":"datum.group=='z0'"},{"calculate":"458.5+63.375*datum.x+29.5*datum.y","as":"sx"},{"calculate":"481+10.625*datum.x-22.875*datum.y-578*datum.z","as":"sy"}],
"mark":{"type":"text","font":"Liberation Serif","fontSize":46,"align":"right","baseline":"middle","dx":-14,"dy":7,"color":"#000000"},
"encoding":{"x":{"field":"sx","type":"quantitative","scale":{"domain":[0,829],"nice":false,"zero":false},"axis":null},"y":{"field":"sy","type":"quantitative","scale":{"domain":[655,0],"nice":false,"zero":false},"axis":null},"text":{"field":"label"}}},
{"data":{"name":"labels"},"transform":[{"filter":"datum.group=='z5'"},{"calculate":"458.5+63.375*datum.x+29.5*datum.y","as":"sx"},{"calculate":"481+10.625*datum.x-22.875*datum.y-578*datum.z","as":"sy"}],
"mark":{"type":"text","font":"Liberation Serif","fontSize":46,"align":"right","baseline":"middle","dx":-14,"dy":13,"color":"#000000"},
"encoding":{"x":{"field":"sx","type":"quantitative","scale":{"domain":[0,829],"nice":false,"zero":false},"axis":null},"y":{"field":"sy","type":"quantitative","scale":{"domain":[655,0],"nice":false,"zero":false},"axis":null},"text":{"field":"label"}}}
]}
